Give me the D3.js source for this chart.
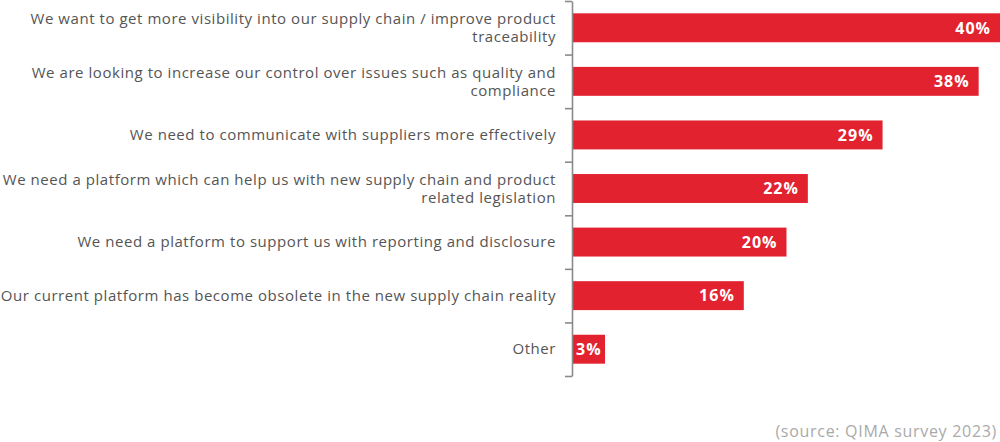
<!DOCTYPE html>
<html lang="en">
<head>
<meta charset="utf-8">
<title>Reasons for a new supply chain platform</title>
<script src="https://cdn.jsdelivr.net/npm/d3@7"></script>
<style>
    body { margin: 0; background: #fff; }
    svg { display: block; }
    .label { font-family: "Open Sans", sans-serif; font-size: 15px; letter-spacing: 0.55px; fill: #555; }
    .value { font-family: "Open Sans", sans-serif; font-size: 16px; letter-spacing: 1px; font-weight: 700; fill: #fff; }
    .source { font-family: "Open Sans", sans-serif; font-size: 16px; letter-spacing: 0.7px; fill: #aaa; }
    .axis path, .axis line { stroke: #8a8a8a; stroke-width: 1.6; }
</style>
</head>
<body>
<div id="chart"></div>
<script>
// categories (line breaks as in the original chart)
const categories = [
    "We want to get more visibility into our supply chain / improve product\ntraceability",
    "We are looking to increase our control over issues such as quality and\ncompliance",
    "We need to communicate with suppliers more effectively",
    "We need a platform which can help us with new supply chain and product\nrelated legislation",
    "We need a platform to support us with reporting and disclosure",
    "Our current platform has become obsolete in the new supply chain reality",
    "Other"
];
const values = [40, 38, 29, 22, 20, 16, 3];
const sourceNote = "(source: QIMA survey 2023)";

const W = 1000, H = 442;
const axisX = 572, yTop = 1, yBottom = 376;

const svg = d3.select("#chart").append("svg")
    .attr("width", W)
    .attr("height", H);

const y = d3.scaleBand()
    .domain(d3.range(categories.length))
    .range([yTop, yBottom])
    .paddingInner(0.46)
    .paddingOuter(0.23);

const x = d3.scaleLinear()
    .domain([0, 40])
    .range([axisX + 1, 1000]);

// bars
svg.selectAll(".bar")
    .data(values)
    .enter().append("rect")
    .attr("class", "bar")
    .attr("x", x(0))
    .attr("y", (d, i) => y(i))
    .attr("width", d => x(d) - x(0))
    .attr("height", y.bandwidth())
    .attr("fill", "#e32230");

// value labels
svg.selectAll(".value")
    .data(values)
    .enter().append("text")
    .attr("class", "value")
    .attr("x", d => (x(d) - x(0) < 45) ? x(0) + 3 : x(d) - 9)
    .attr("y", (d, i) => y(i) + y.bandwidth() / 2)
    .attr("dy", "0.36em")
    .attr("text-anchor", d => (x(d) - x(0) < 45) ? "start" : "end")
    .text(d => d + "%");

// axis with ticks on band edges
const edge = d3.scaleLinear().domain([0, categories.length]).range([yTop, yBottom]);
svg.append("g")
    .attr("class", "axis")
    .attr("transform", "translate(" + axisX + ",0)")
    .call(d3.axisLeft(edge).tickValues(d3.range(categories.length + 1)).tickFormat("").tickSize(7).tickSizeOuter(0));

// category labels
const lh = 18;
svg.selectAll(".label")
    .data(categories)
    .enter().append("text")
    .attr("class", "label")
    .attr("text-anchor", "end")
    .attr("transform", (d, i) => {
        const n = d.split("\n").length;
        const cy = y(i) + y.bandwidth() / 2 - (n - 1) * lh / 2;
        return "translate(556," + cy + ")";
    })
    .each(function(d) {
        d3.select(this).selectAll("tspan")
            .data(d.split("\n"))
            .enter().append("tspan")
            .attr("x", 0)
            .attr("y", (t, j) => j * lh)
            .attr("dy", "0.35em")
            .text(t => t);
    });

svg.append("text")
    .attr("class", "source")
    .attr("x", 997)
    .attr("y", 437)
    .attr("text-anchor", "end")
    .text(sourceNote);
</script>
</body>
</html>
